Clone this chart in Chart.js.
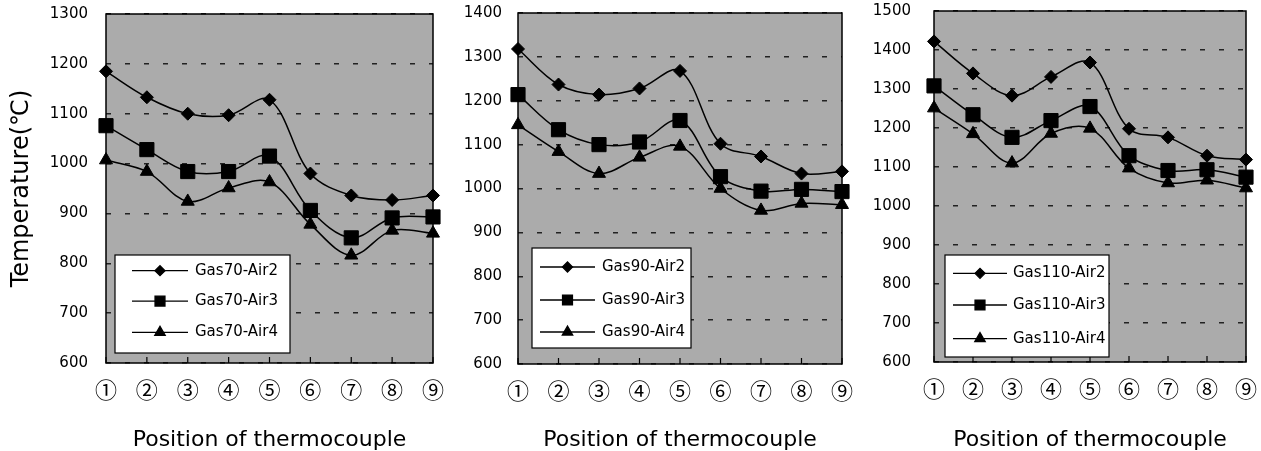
<!DOCTYPE html>
<html>
<head>
<meta charset="utf-8">
<script src="https://cdn.jsdelivr.net/npm/chart.js@4.4.0/dist/chart.umd.min.js"></script>
<style>
  body { margin: 0; background: #fff; width: 1261px; height: 451px; overflow: hidden; position: relative; }
  canvas { position: absolute; top: 0; }
</style>
</head>
<body>
<canvas id="c1" width="450" height="451" style="left:0px"></canvas>
<canvas id="c2" width="410" height="451" style="left:450px"></canvas>
<canvas id="c3" width="401" height="451" style="left:860px"></canvas>
<script>
// posições dos termopares
const positions = ['①', '②', '③', '④', '⑤', '⑥', '⑦', '⑧', '⑨'];

// Gas 70
const gas70Air2 = [1185, 1133, 1100, 1097, 1128, 980, 936, 927, 936];
const gas70Air3 = [1076, 1028, 984, 984, 1015, 906, 851, 891, 893];
const gas70Air4 = [1007, 984, 924, 951, 963, 878, 816, 866, 860];

// Gas 90
const gas90Air2 = [1318, 1237, 1214, 1228, 1268, 1102, 1073, 1034, 1039];
const gas90Air3 = [1214, 1134, 1100, 1106, 1155, 1027, 994, 998, 993];
const gas90Air4 = [1145, 1084, 1034, 1071, 1096, 1000, 950, 966, 963];

// Gas 110
const gas110Air2 = [1422, 1340, 1283, 1331, 1368, 1198, 1176, 1129, 1119];
const gas110Air3 = [1308, 1234, 1176, 1219, 1255, 1129, 1091, 1093, 1074];
const gas110Air4 = [1251, 1185, 1110, 1186, 1199, 1097, 1059, 1066, 1046];

const FONT = "'DejaVu Sans', sans-serif";

// fundo cinza + moldura da área do gráfico + marcas do eixo x
const plotFrame = {
  id: 'plotFrame',
  beforeDraw(chart) {
    const { ctx, chartArea: a } = chart;
    ctx.save();
    ctx.fillStyle = '#ababab';
    ctx.fillRect(a.left, a.top, a.right - a.left, a.bottom - a.top);
    ctx.restore();
  },
  afterDatasetsDraw(chart) {
    const { ctx, chartArea: a } = chart;
    const xs = chart.scales.x;
    ctx.save();
    ctx.strokeStyle = '#000';
    ctx.lineWidth = 1.5;
    ctx.strokeRect(a.left, a.top, a.right - a.left, a.bottom - a.top);
    ctx.lineWidth = 1.2;
    ctx.beginPath();
    xs.ticks.forEach((t, i) => {
      const x = xs.getPixelForTick(i);
      ctx.moveTo(x, a.bottom);
      ctx.lineTo(x, a.bottom - 6);
    });
    ctx.stroke();
    ctx.restore();
  }
};

// legenda desenhada dentro da área do gráfico
const boxLegend = {
  id: 'boxLegend',
  afterDraw(chart, args, opts) {
    const { ctx } = chart;
    const b = opts.box;
    ctx.save();
    ctx.fillStyle = '#fff';
    ctx.fillRect(b.x, b.y, b.w, b.h);
    ctx.strokeStyle = '#000';
    ctx.lineWidth = 1.2;
    ctx.strokeRect(b.x, b.y, b.w, b.h);
    chart.data.datasets.forEach((ds, i) => {
      const y = b.y + b.h * opts.rows[i];
      ctx.strokeStyle = '#000';
      ctx.lineWidth = 1.3;
      ctx.beginPath();
      ctx.moveTo(b.x + opts.lineFrom, y);
      ctx.lineTo(b.x + opts.lineTo, y);
      ctx.stroke();
      ctx.fillStyle = '#000';
      Chart.helpers.drawPoint(ctx, { pointStyle: ds.pointStyle, radius: opts.markerRadius[i], rotation: 0, borderWidth: 1 },
        b.x + (opts.lineFrom + opts.lineTo) / 2, y);
      ctx.fillStyle = '#000';
      ctx.font = '15px ' + FONT;
      ctx.textAlign = 'left';
      ctx.textBaseline = 'middle';
      ctx.fillText(ds.label, b.x + opts.textX, y);
    });
    ctx.restore();
  }
};

function serie(label, data, style, radius) {
  return {
    label: label,
    data: data,
    borderColor: '#000',
    backgroundColor: '#000',
    borderWidth: 1.5,
    pointStyle: style,
    pointRadius: radius,
    pointBackgroundColor: '#000',
    pointBorderColor: '#000',
    pointBorderWidth: 1,
    tension: 0.35,
    clip: false
  };
}

function makeChart(id, gas, air2, air3, air4, cfg) {
  return new Chart(document.getElementById(id), {
    type: 'line',
    data: {
      labels: positions,
      datasets: [
        serie('Gas' + gas + '-Air2', air2, 'rectRot', 6.5),
        serie('Gas' + gas + '-Air3', air3, 'rect', 10),
        serie('Gas' + gas + '-Air4', air4, 'triangle', 7.5)
      ]
    },
    options: {
      responsive: false,
      animation: false,
      layout: { padding: { top: cfg.top, right: cfg.right, left: 0, bottom: 0 } },
      plugins: {
        legend: { display: false },
        tooltip: { enabled: false },
        boxLegend: cfg.legend
      },
      scales: {
        x: {
          offset: false,
          grid: { display: true, drawOnChartArea: false, color: 'transparent', drawTicks: true, tickLength: 13, tickColor: 'transparent' },
          border: { display: false },
          ticks: { color: '#000', font: { family: "'Noto Sans CJK KR', " + FONT, size: 22 }, padding: 0, maxRotation: 0, autoSkip: false },
          title: { display: true, text: 'Position of thermocouple', color: '#000', font: { family: FONT, size: 22 }, padding: { top: 0, bottom: -2 } },
          afterFit: s => { s.height = 451 - cfg.bottom; }
        },
        y: {
          min: 600,
          max: cfg.max,
          grid: { color: '#222', lineWidth: 1.4, drawTicks: true, tickLength: cfg.tickPad, tickColor: 'transparent' },
          border: { display: false, dash: [5, 14] },
          ticks: { stepSize: 100, color: '#000', font: { family: FONT, size: 15 }, padding: 0, callback: v => String(v) },
          title: { display: cfg.yTitle, text: 'Temperature(℃)', color: '#000', font: { family: FONT, size: 24 }, padding: { top: 7, bottom: 0 } },
          afterFit: s => { s.width = cfg.left; }
        }
      }
    },
    plugins: [plotFrame, boxLegend]
  });
}

makeChart('c1', 70, gas70Air2, gas70Air3, gas70Air4, {
  top: 14, right: 17, bottom: 363, left: 106, max: 1300, tickPad: 18, yTitle: true,
  legend: { box: { x: 115, y: 255, w: 175, h: 98 }, rows: [0.16, 0.47, 0.79], lineFrom: 17, lineTo: 73, textX: 80, markerRadius: [5, 7, 6] }
});
makeChart('c2', 90, gas90Air2, gas90Air3, gas90Air4, {
  top: 13, right: 18, bottom: 364, left: 68, max: 1400, tickPad: 16, yTitle: false,
  legend: { box: { x: 82, y: 248, w: 159, h: 100 }, rows: [0.19, 0.52, 0.84], lineFrom: 8, lineTo: 63, textX: 70, markerRadius: [5, 7, 6] }
});
makeChart('c3', 110, gas110Air2, gas110Air3, gas110Air4, {
  top: 10, right: 15, bottom: 362, left: 74, max: 1500, tickPad: 23, yTitle: false,
  legend: { box: { x: 85, y: 255, w: 164, h: 102 }, rows: [0.18, 0.49, 0.82], lineFrom: 8, lineTo: 62, textX: 68, markerRadius: [5, 7, 6] }
});
</script>
</body>
</html>
